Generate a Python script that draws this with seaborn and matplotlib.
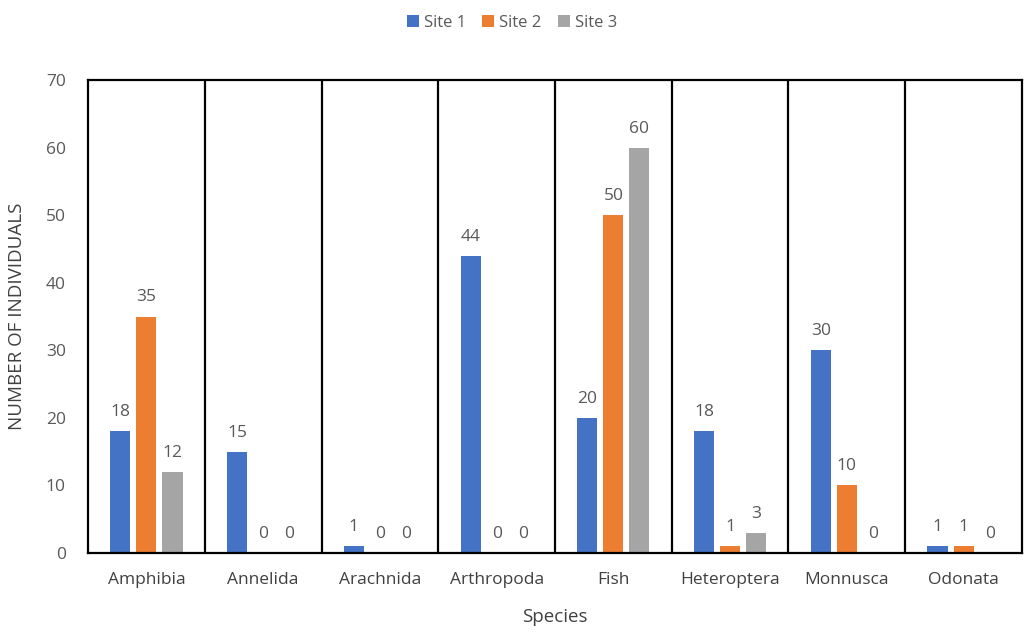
import matplotlib
matplotlib.use("Agg")
import matplotlib.pyplot as plt
import seaborn as sns
import pandas as pd

species = ["Amphibia", "Annelida", "Arachnida", "Arthropoda", "Fish",
           "Heteroptera", "Monnusca", "Odonata"]
site1 = [18, 15, 1, 44, 20, 18, 30, 1]
site2 = [35, 0, 0, 0, 50, 1, 10, 1]
site3 = [12, 0, 0, 0, 60, 3, 0, 0]
sites = ["Site 1", "Site 2", "Site 3"]
colors = ["#4472C4", "#ED7D31", "#A5A5A5"]

df = pd.DataFrame({
    "Species": species * 3,
    "Site": [s for s in sites for _ in species],
    "Count": site1 + site2 + site3,
})

sns.set_theme(style="white")
plt.rcParams["font.family"] = ["Open Sans", "DejaVu Sans"]

fig = plt.figure(figsize=(10.24, 6.36), dpi=100)
ax = fig.add_axes([0.086, 0.1305, 0.912, 0.7435])

sns.barplot(data=df, x="Species", y="Count", hue="Site", order=species,
            hue_order=sites, palette=colors, width=0.67, gap=0.23,
            saturation=1, ax=ax, legend=True, linewidth=0)

for cont in ax.containers:
    ax.bar_label(cont, labels=[f"{v:g}" for v in cont.datavalues],
                 padding=8, fontsize=12.5, color="#595959")

ax.set_ylim(0, 70)
ax.set_xlim(-0.5, len(species) - 0.5)
ax.set_yticks(range(0, 71, 10))
for i in range(1, len(species)):
    ax.axvline(i - 0.5, color="black", lw=1.6, zorder=0)
for sp in ax.spines.values():
    sp.set_color("black")
    sp.set_linewidth(1.6)
ax.tick_params(axis="both", length=0, labelsize=12.5, colors="#404040")
ax.tick_params(axis="x", pad=14)
ax.tick_params(axis="y", colors="#595959", pad=16)
ax.set_xlabel("Species", fontsize=13.5, color="#404040", labelpad=14)
ax.set_ylabel("NUMBER OF INDIVIDUALS", fontsize=13.5, color="#404040", labelpad=14)

handles, labels = ax.get_legend_handles_labels()
ax.legend(handles, labels, loc="upper center", bbox_to_anchor=(0.5, 1.0),
          bbox_transform=fig.transFigure, ncol=3, frameon=False,
          fontsize=12, labelcolor="#595959", handlelength=0.7,
          handleheight=0.7, handletextpad=0.3, columnspacing=1.0)

fig.savefig("out.png", dpi=100, facecolor="white")
